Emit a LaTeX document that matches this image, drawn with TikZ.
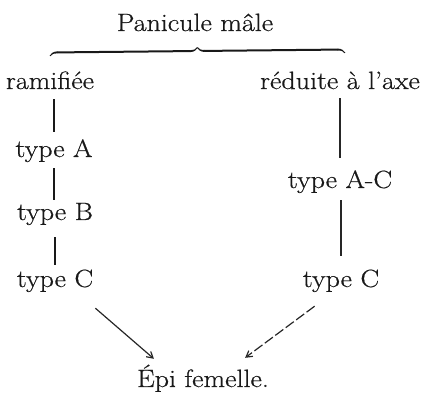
\documentclass[tikz,border=0pt]{standalone}
\usepackage{fontspec}
\setmainfont{Latin Modern Roman}[FakeStretch=1.12,FakeBold=0.6]
\usetikzlibrary{arrows.meta,decorations.pathreplacing,calligraphy,calc}
\tikzset{
  lbl/.style={font=\fontsize{25}{28}\selectfont, inner sep=0pt, anchor=base, text height=16pt, text depth=5pt, text=black!90},
  thick line/.style={line width=2.3pt, black!90},
  thin line/.style={line width=1.4pt, black!85},
  arr/.style={line width=1.2pt, black!85, -{Straight Barb[length=6pt,width=7pt,line width=1.2pt]}},
}
\begin{document}
\begin{tikzpicture}[x=1pt,y=-1pt]
\useasboundingbox (0,0) rectangle (424,393);
\node[lbl] (pan) at (195,31) {Panicule mâle};
\coordinate (bl) at (50,56);
\coordinate (br) at (345,53);
\draw[decorate, decoration={calligraphic brace, amplitude=7pt}, line width=2pt, pen colour={black!90}] (bl) -- (br);
\node[lbl] (ram) at (50,89) {ramifiée};
\node[lbl] (red) at (340,89) {réduite à l'axe};
\node[lbl] (tA) at (54,157) {type A};
\node[lbl] (tB) at (55,220) {type B};
\node[lbl] (lC) at (55,287) {type C};
\node[lbl] (tAC) at (340,188) {type A-C};
\node[lbl] (rC) at (341,287) {type C};
\node[lbl] (epi) at (203,387) {Épi femelle.};
% left chain
\draw[thick line, shorten <=5pt, shorten >=9pt] (ram.south -| tA.north) -- (tA.north);
\draw[thick line, shorten <=6pt, shorten >=4pt] (tA.south) -- (tA.south |- tB.north);
\draw[thick line, shorten <=12pt, shorten >=6pt] (tB.south) -- (tB.south |- lC.north);
% right chain
\draw[thin line, shorten <=4pt, shorten >=14pt] (red.south) -- (red.south |- tAC.north);
\draw[thin line, shorten <=7pt, shorten >=15pt] (tAC.south -| rC.north) -- (rC.north);
% arrows
\draw[arr] ($(lC.south east)+(2,16)$) -- ($(epi.north west)+(17,-12)$);
\draw[arr, dash pattern=on 10pt off 3pt] ($(rC.south west)+(12,14)$) -- ($(epi.north east)+(-24,-13)$);
\end{tikzpicture}
\end{document}
